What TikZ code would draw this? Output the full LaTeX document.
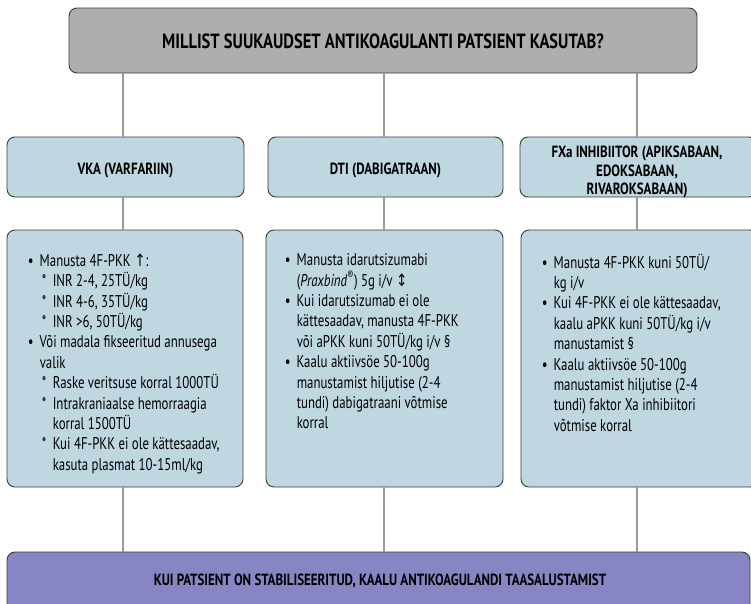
\documentclass[tikz,border=0pt]{standalone}
\usepackage{fontspec}
\setmainfont{PT Sans}[FakeStretch=0.80]
\newfontfamily\bodyfont{PT Sans}[FakeStretch=0.755]
\newfontfamily\symfont{DejaVu Sans}[FakeStretch=0.80]
\usetikzlibrary{calc}

\definecolor{titlegray}{HTML}{AEAEAE}
\definecolor{paleblue}{HTML}{BFD7E1}
\definecolor{lilac}{HTML}{8885C5}
\definecolor{linkgray}{HTML}{9A9A9A}
\definecolor{edge}{HTML}{3A3A3A}

% list helpers: bullet items, their continuation lines, starred sub-items
\newcommand\bitem{\makebox[12pt][l]{•}}
\newcommand\bcont{\hspace*{12pt}}
\newcommand\sitem{\hspace*{14pt}\makebox[11pt][l]{*}}
\newcommand\scont{\hspace*{25pt}}

\begin{document}
\begin{tikzpicture}[x=1pt,y=-1pt,
  box/.style={draw=edge, line width=0.9pt, rounded corners=8pt, inner sep=0pt},
  titlebox/.style={box, fill=titlegray},
  bluebox/.style={box, fill=paleblue},
  endbox/.style={box, fill=lilac},
  link/.style={draw=linkgray, line width=2pt},
  headtext/.style={font=\bfseries\fontsize{16.2}{18.7}\selectfont, align=center, inner sep=0pt},
  body/.style={font=\bodyfont\fontsize{17}{20.4}\selectfont, align=left, inner sep=0pt, anchor=north west}]

\useasboundingbox (0,0) rectangle (751,603);
\clip (0,0) rectangle (751,603);

% column axes of the connectors
\coordinate (c1) at (123,0);
\coordinate (c2) at (384,0);
\coordinate (c3) at (637,0);

% question box
\node[titlebox, minimum width=628pt, minimum height=65pt] (top) at (383,40.5) {};
\node[font=\bfseries\fontsize{20.6}{24}\selectfont, anchor=base, inner sep=0pt] (toptext) at (383,48)
  {MILLIST SUUKAUDSET ANTIKOAGULANTI PATSIENT KASUTAB?};

% drug class headers
\node[bluebox, minimum width=237pt, minimum height=60pt] (vka) at (125.5,167) {};
\node[bluebox, minimum width=235pt, minimum height=60pt] (dti) at (385.5,167) {};
\node[bluebox, minimum width=237pt, minimum height=60pt] (fxa) at (638.5,167) {};
\node[headtext, anchor=base] (vkat) at (125.5,174) {VKA (VARFARIIN)};
\node[headtext, anchor=base] (dtit) at (385.5,174) {DTI (DABIGATRAAN)};
\node[headtext] (fxat) at (637,172) {FXa INHIBIITOR (APIKSABAAN,\\EDOKSABAAN,\\RIVAROKSABAAN)};

% treatment boxes
\node[bluebox, minimum width=236pt, minimum height=257pt] (vkab) at (125,358.5) {};
\node[bluebox, minimum width=237pt, minimum height=257pt] (dtib) at (384.5,358.5) {};
\node[bluebox, minimum width=237pt, minimum height=257pt] (fxab) at (639.5,358.5) {};

\node[body] (vkabt) at ($(vkab.north west)+(21,24)$) {%
\bitem Manusta 4F-PKK {\symfont ↑}:\\
\sitem INR 2-4, 25TÜ/kg\\
\sitem INR 4-6, 35TÜ/kg\\
\sitem INR >6, 50TÜ/kg\\
\bitem Või madala fikseeritud annusega\\
\bcont valik\\
\sitem Raske veritsuse korral 1000TÜ\\
\sitem Intrakraniaalse hemorraagia\\
\scont korral 1500TÜ\\
\sitem Kui 4F-PKK ei ole kättesaadav,\\
\scont kasuta plasmat 10-15ml/kg};

\node[body] (dtibt) at ($(dtib.north west)+(19,24)$) {%
\bitem Manusta idarutsizumabi\\
\bcont (\textit{Praxbind}\textsuperscript{®}) 5g i/v {\symfont ↕}\\
\bitem Kui idarutsizumab ei ole\\
\bcont kättesaadav, manusta 4F-PKK\\
\bcont või aPKK kuni 50TÜ/kg i/v §\\
\bitem Kaalu aktiivsöe 50-100g\\
\bcont manustamist hiljutise (2-4\\
\bcont tundi) dabigatraani võtmise\\
\bcont korral};

\node[body] (fxabt) at ($(fxab.north west)+(21,24)$) {%
\bitem Manusta 4F-PKK kuni 50TÜ/\\
\bcont kg i/v\\
\bitem Kui 4F-PKK ei ole kättesaadav,\\
\bcont kaalu aPKK kuni 50TÜ/kg i/v\\
\bcont manustamist §\\
\bitem Kaalu aktiivsöe 50-100g\\
\bcont manustamist hiljutise (2-4\\
\bcont tundi) faktor Xa inhibiitori\\
\bcont võtmise korral};

% closing recommendation
\node[endbox, minimum width=743pt, minimum height=60pt] (end) at (378.5,582) {};
\node[headtext, anchor=base] (endt) at (380,585)
  {KUI PATSIENT ON STABILISEERITUD, KAALU ANTIKOAGULANDI TAASALUSTAMIST};

% connectors
\draw[link] (top.south -| c1) -- (vka.north -| c1);
\draw[link] (top.south -| c2) -- (dti.north -| c2);
\draw[link] (top.south -| c3) -- (fxa.north -| c3);
\draw[link] (vka.south -| c1) -- (vkab.north -| c1);
\draw[link] (dti.south -| c2) -- (dtib.north -| c2);
\draw[link] (fxa.south -| c3) -- (fxab.north -| c3);
\draw[link] (vkab.south -| c1) -- (end.north -| c1);
\draw[link] (dtib.south -| c2) -- (end.north -| c2);
\draw[link] (fxab.south -| c3) -- (end.north -| c3);
\end{tikzpicture}
\end{document}
